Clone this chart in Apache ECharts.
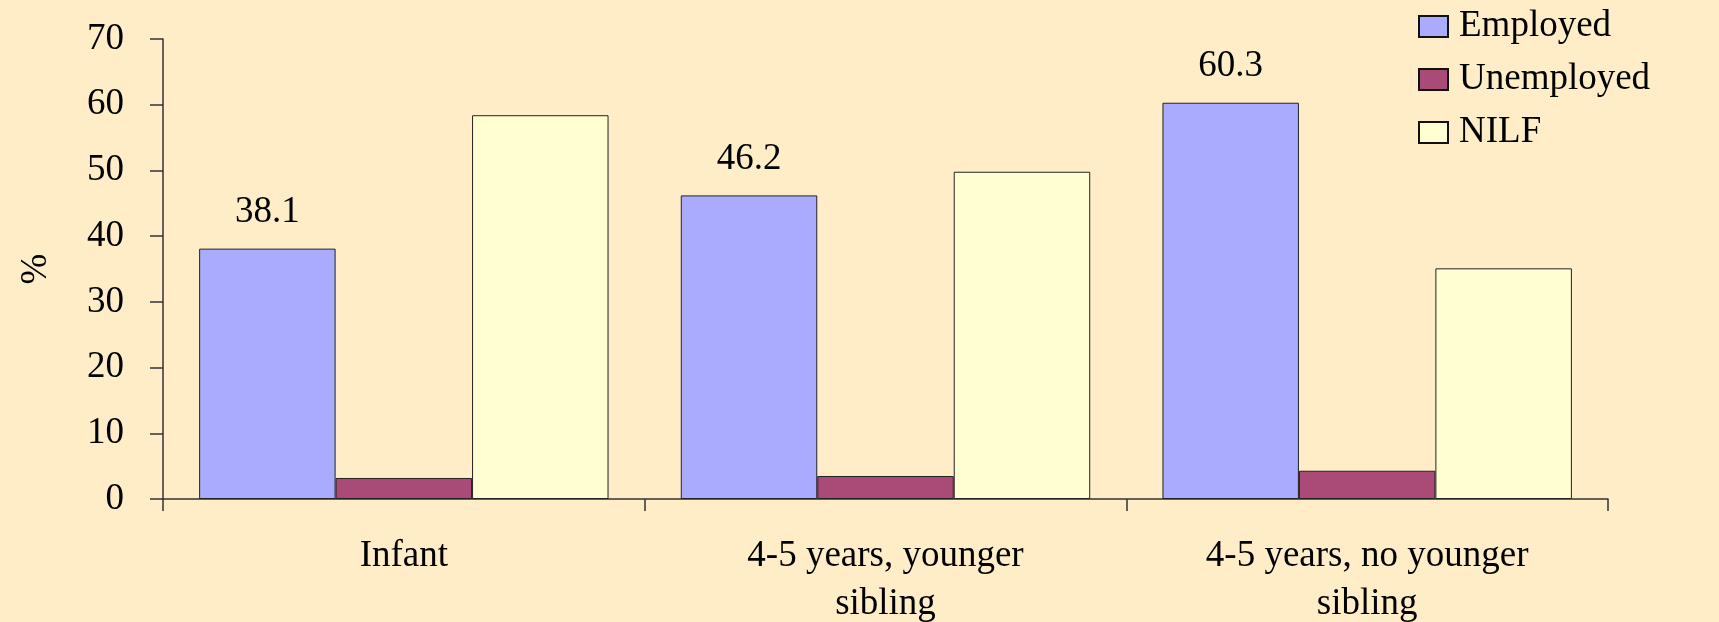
<!DOCTYPE html>
<html>
<head>
<meta charset="utf-8">
<script src="https://cdn.jsdelivr.net/npm/echarts@6/dist/echarts.min.js"></script>
<style>
  html, body { margin: 0; padding: 0; background: #FFEDC8; }
  #chart { width: 1719px; height: 622px; }
</style>
</head>
<body>
<div id="chart"></div>
<script>
// 数据
var categories = ['Infant', '4-5 years, younger\nsibling', '4-5 years, no younger\nsibling']
var employed = [38.1, 46.2, 60.3]
var unemployed = [3.2, 3.5, 4.3]
var nilf = [58.4, 49.8, 35.1]
var seriesNames = ['Employed', 'Unemployed', 'NILF']
var yTicks = { min: 0, max: 70, interval: 10 }

var serif = '"Liberation Serif", "DejaVu Serif", serif'

var myChart = echarts.init(document.getElementById('chart'))

var barStyle = function (color) {
    return { color: color, borderColor: '#222', borderWidth: 1 }
}

var option = {
    backgroundColor: '#FFEDC8',
    animation: false,
    grid: {
        left: 163,
        right: 111,
        top: 39,
        bottom: 123,
        outerBoundsMode: 'none'
    },
    legend: {
        orient: 'vertical',
        left: 1413,
        top: 3,
        itemWidth: 29,
        itemHeight: 21,
        itemGap: 16,
        icon: 'rect',
        data: seriesNames,
        itemStyle: { borderColor: '#111', borderWidth: 2 },
        textStyle: { fontFamily: serif, fontSize: 37, color: '#000', padding: [0, 0, 0, 6] }
    },
    xAxis: {
        type: 'category',
        data: categories,
        axisLine: { lineStyle: { color: '#333', width: 1.5 } },
        axisTick: { show: true, length: 12, lineStyle: { color: '#333', width: 1.5 } },
        axisLabel: {
            fontFamily: serif,
            fontSize: 37,
            color: '#000',
            lineHeight: 48,
            margin: 33,
            interval: 0
        }
    },
    yAxis: {
        type: 'value',
        min: yTicks.min,
        max: yTicks.max,
        interval: yTicks.interval,
        name: '%',
        nameLocation: 'middle',
        nameRotate: 90,
        nameGap: 108,
        nameTextStyle: { fontFamily: serif, fontSize: 37, color: '#000' },
        splitLine: { show: false },
        axisLine: { show: true, lineStyle: { color: '#333', width: 1.5 } },
        axisTick: { show: true, length: 13, lineStyle: { color: '#333', width: 1.5 } },
        axisLabel: { fontFamily: serif, fontSize: 37, color: '#000', margin: 39 }
    },
    series: [
        {
            name: seriesNames[0],
            type: 'bar',
            data: employed,
            barGap: '0%',
            barCategoryGap: '15%',
            itemStyle: barStyle('#AAAAFF'),
            label: {
                show: true,
                position: 'top',
                distance: 18,
                fontFamily: serif,
                fontSize: 37,
                color: '#000'
            }
        },
        {
            name: seriesNames[1],
            type: 'bar',
            data: unemployed,
            itemStyle: barStyle('#A94A77')
        },
        {
            name: seriesNames[2],
            type: 'bar',
            data: nilf,
            itemStyle: barStyle('#FFFFD2')
        }
    ]
}
myChart.setOption(option)
</script>
</body>
</html>
